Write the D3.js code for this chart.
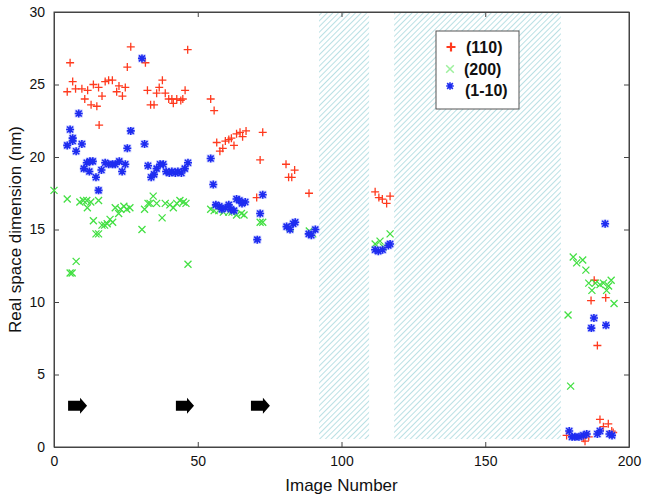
<!DOCTYPE html>
<html><head><meta charset="utf-8">
<script src="https://cdn.jsdelivr.net/npm/d3@7"></script>
<style>body{margin:0;background:#fff}svg{display:block}</style>
</head><body>
<svg id="c" width="649" height="499"></svg>
<script>
// (110) series: [image number, size nm]
const s110 = [[4.6,24.5],[5.6,26.5],[6.5,25.2],[7.5,24.7],[9.7,24.7],[10.7,24.0],[11.7,24.6],[12.9,23.6],[13.7,25.0],[14.9,23.5],[15.5,24.8],[15.7,22.2],[16.7,24.2],[17.8,25.2],[19.0,25.3],[20.3,25.3],[21.8,24.5],[22.6,24.9],[23.8,24.2],[24.8,24.8],[25.5,26.2],[26.7,27.6],[31.8,26.5],[32.5,24.6],[33.6,23.6],[34.8,23.6],[35.7,24.4],[36.6,24.8],[37.7,25.3],[38.7,24.4],[39.9,24.0],[41.0,24.0],[41.5,23.7],[42.7,24.0],[44.1,23.9],[44.8,24.0],[45.6,24.6],[46.5,27.4],
[54.5,24.0],[55.7,23.2],[56.6,21.0],[57.7,20.4],[58.7,20.6],[59.6,21.1],[60.8,21.2],[61.7,21.3],[62.6,20.8],[63.5,21.6],[64.7,21.7],[65.6,21.4],[66.8,21.8],[72.6,21.7],[71.7,19.8],[70.5,17.2],[80.7,19.5],[83.7,19.1],[81.6,18.6],[82.7,18.6],[88.7,17.5],
[111.7,17.6],[113.0,17.2],[114.2,17.1],[115.7,16.8],[116.9,17.3],
[187.9,11.5],[186.8,10.1],[191.9,10.3],[189.0,7.0],[178.3,0.8],[184.1,0.6],[184.7,0.4],[186.0,0.7],[189.9,1.9],[191.1,1.4],[192.8,1.6],[194.0,1.1],[194.5,1.0]];
// (200) series
const s200 = [[0.0,17.7],[4.6,17.1],[5.6,12.0],[6.3,12.0],[7.7,12.8],[9.0,16.9],[10.2,17.0],[11.4,17.0],[11.6,16.5],[12.8,16.9],[15.5,17.0],[13.7,15.6],[14.6,14.7],[15.5,14.7],[16.7,15.3],[17.6,15.3],[18.5,15.4],[19.5,15.7],[20.4,15.5],[21.3,16.5],[22.5,16.1],[23.2,16.4],[24.3,16.6],[25.3,16.4],[26.4,16.5],[30.6,15.0],[31.5,16.4],[32.7,16.8],[33.4,16.8],[34.5,17.3],[35.7,16.8],[37.6,15.8],[38.7,16.8],[40.3,16.7],[41.5,16.5],[42.7,16.8],[43.8,17.0],[45.0,16.9],[45.9,16.8],[46.6,12.6],
[54.5,16.4],[55.7,16.3],[57.3,16.3],[58.9,16.2],[60.8,16.2],[61.9,16.2],[63.5,16.0],[65.2,16.1],[66.1,16.0],[71.7,15.5],[72.6,15.5],[82.1,15.1],[88.8,14.9],[90.0,14.7],
[111.7,14.0],[113.4,14.2],[114.5,13.8],[116.9,14.7],
[180.6,13.1],[181.8,12.7],[183.9,12.9],[185.0,12.2],[186.0,11.3],[187.1,10.8],[188.3,11.3],[189.9,11.2],[191.1,11.3],[192.2,10.8],[192.9,11.1],[193.8,11.5],[194.8,9.9],[178.8,9.1],[179.7,4.2]];
// (1-10) series
const s1m10 = [[30.6,26.8],[8.6,23.0],[5.6,21.9],[26.7,21.8],[6.5,21.3],[4.6,20.8],[6.5,21.1],[7.7,20.4],[9.7,20.9],[25.5,20.6],[31.5,20.9],[10.4,19.2],[11.4,19.6],[12.5,19.7],[13.5,19.7],[12.3,19.0],[14.6,18.6],[16.5,19.1],[17.8,19.6],[19.0,19.5],[20.4,19.5],[21.3,19.5],[22.7,19.7],[23.7,19.0],[24.8,19.5],[15.5,17.7],[32.7,19.4],[33.8,18.6],[34.8,18.8],[35.7,19.2],[36.9,19.5],[38.0,19.5],[39.0,19.0],[40.1,18.9],[41.0,19.0],[42.2,18.9],[43.1,19.0],[44.3,18.9],[45.5,19.2],[46.6,19.6],
[54.5,19.9],[55.4,18.1],[56.3,16.7],[57.5,16.6],[58.4,16.4],[59.6,16.5],[60.8,16.7],[61.5,16.4],[62.6,16.3],[63.5,17.1],[64.5,17.0],[65.4,16.8],[66.5,16.9],[72.6,17.4],[71.7,16.1],[70.7,14.3],[80.9,15.2],[82.1,15.0],[83.2,15.4],[83.9,15.5],[88.6,14.7],[89.5,14.6],[90.9,15.0],
[111.7,13.6],[112.8,13.5],[114.3,13.6],[116.3,13.9],[116.9,14.0],
[187.8,8.9],[186.9,8.2],[192.0,8.4],[191.7,15.4],[179.2,1.1],[180.2,0.7],[181.2,0.7],[182.6,0.7],[184.1,0.8],[185.3,0.9],[189.0,0.9],[189.9,1.1],[193.2,0.9],[194.1,0.8]];
const hatched = [[92.2,109.6],[118.3,176.3]];
const hatchRange = [0.55,30];
const arrowsX = [[4.9,11.5],[42.4,48.7],[68.5,75.1]];
const arrowY = 2.85;
const xTicks = [0,50,100,150,200];
const yTicks = [0,5,10,15,20,25,30];
const legendLabels = ["(110)","(200)","(1-10)"];

const svg = d3.select("#c");
const x = d3.scaleLinear().domain([0,200]).range([54,629]);
const y = d3.scaleLinear().domain([0,30]).range([447,12]);

const defs = svg.append("defs");
const pat = defs.append("pattern").attr("id","hatch").attr("patternUnits","userSpaceOnUse")
  .attr("width",4).attr("height",4).attr("patternTransform","rotate(45)");
pat.append("rect").attr("width",4).attr("height",4).attr("fill","#fff");
pat.append("line").attr("x1",0).attr("y1",0).attr("x2",0).attr("y2",4)
  .attr("stroke","#a9d9dd").attr("stroke-width",1.6);

svg.selectAll("rect.hatch").data(hatched).join("rect").attr("class","hatch")
  .attr("x",d=>x(d[0])).attr("width",d=>x(d[1])-x(d[0]))
  .attr("y",y(hatchRange[1])).attr("height",y(hatchRange[0])-y(hatchRange[1]))
  .attr("fill","url(#hatch)");

// axes box
const axCol = "#444";
svg.append("rect").attr("x",x(0)).attr("y",y(30)).attr("width",x(200)-x(0)).attr("height",y(0)-y(30))
  .attr("fill","none").attr("stroke",axCol).attr("stroke-width",1);

const xa = svg.append("g").attr("transform",`translate(0,${y(0)})`)
  .call(d3.axisBottom(x).tickValues(xTicks).tickSize(-5).tickPadding(9).tickSizeOuter(0));
const ya = svg.append("g").attr("transform",`translate(${x(0)},0)`)
  .call(d3.axisLeft(y).tickValues(yTicks).tickSize(-5).tickPadding(9).tickSizeOuter(0));
const xt = svg.append("g").attr("transform",`translate(0,${y(30)})`)
  .call(d3.axisTop(x).tickValues(xTicks).tickSize(-5).tickFormat("").tickSizeOuter(0));
const yr = svg.append("g").attr("transform",`translate(${x(200)},0)`)
  .call(d3.axisRight(y).tickValues(yTicks).tickSize(-5).tickFormat("").tickSizeOuter(0));
[xa,ya,xt,yr].forEach(g=>{
  g.select(".domain").attr("stroke",axCol);
  g.selectAll(".tick line").attr("stroke",axCol);
  g.selectAll(".tick text").attr("font-family","Liberation Sans, Arial, sans-serif").attr("font-size",14).attr("fill","#111");
});
xa.selectAll(".tick text").attr("dy","0.71em");

svg.append("text").attr("x",(x(0)+x(200))/2).attr("y",491).attr("text-anchor","middle")
  .attr("font-family","Liberation Sans, Arial, sans-serif").attr("font-size",17).attr("fill","#111").text("Image Number");
svg.append("text").attr("transform",`translate(21,${(y(0)+y(30))/2}) rotate(-90)`).attr("text-anchor","middle")
  .attr("font-family","Liberation Sans, Arial, sans-serif").attr("font-size",17).attr("fill","#111").text("Real space dimension (nm)");

// arrows
const ah = 7, bh = 5;
svg.selectAll("path.arrow").data(arrowsX).join("path").attr("class","arrow")
  .attr("d",d=>{
    const x0=x(d[0]), x1=x(d[1]), yc=y(arrowY), xm=x1-7;
    return `M${x0},${yc-bh}L${xm},${yc-bh}L${xm},${yc-ah-1}L${x1},${yc}L${xm},${yc+ah+1}L${xm},${yc+bh}L${x0},${yc+bh}Z`;
  }).attr("fill","#000");

// markers
const red = "#ff3a1e", green = "#44e044", blue = "#1e2cf0";
const plus = (a)=>`M${-a},0L${a},0M0,${-a}L0,${a}`;
const cross = (a)=>`M${-a},${-a}L${a},${a}M${-a},${a}L${a},${-a}`;
const star = (a)=>plus(a)+cross(a*0.75);

svg.append("g").selectAll("path").data(s110).join("path")
  .attr("transform",d=>`translate(${x(d[0])},${y(d[1])})`).attr("d",plus(4))
  .attr("stroke",red).attr("stroke-width",1.3).attr("fill","none");
svg.append("g").selectAll("path").data(s200).join("path")
  .attr("transform",d=>`translate(${x(d[0])},${y(d[1])})`).attr("d",cross(3.5))
  .attr("stroke",green).attr("stroke-width",1.3).attr("fill","none");
const bg = svg.append("g");
bg.selectAll("rect").data(s1m10).join("rect")
  .attr("x",d=>x(d[0])-4).attr("y",d=>y(d[1])-4).attr("width",8).attr("height",8)
  .attr("fill","#8a94ff").attr("opacity",0.45);
bg.selectAll("path").data(s1m10).join("path")
  .attr("transform",d=>`translate(${x(d[0])},${y(d[1])})`).attr("d",star(4))
  .attr("stroke",blue).attr("stroke-width",1.6).attr("fill","none");

// legend
const lg = svg.append("g");
lg.append("rect").attr("x",436).attr("y",31).attr("width",83).attr("height",78)
  .attr("fill","#fff").attr("stroke","#555").attr("stroke-width",1);
const ly = [47,69,90];
lg.append("path").attr("transform",`translate(451,${ly[0]})`).attr("d",plus(4.5)).attr("stroke",red).attr("stroke-width",2.2).attr("fill","none");
lg.append("path").attr("transform",`translate(450,${ly[1]})`).attr("d",cross(3.8)).attr("stroke","#9df09d").attr("stroke-width",1.5).attr("fill","none");
lg.append("path").attr("transform",`translate(450,${ly[2]-4})`).attr("d",star(3.8)).attr("stroke",blue).attr("stroke-width",1.6).attr("fill","none");
lg.selectAll("text").data(legendLabels).join("text")
  .attr("x",(d,i)=>[466,464,465][i]).attr("y",(d,i)=>ly[i]+6)
  .attr("font-family","Liberation Sans, Arial, sans-serif").attr("font-weight","bold").attr("font-size",16).attr("fill","#111")
  .text(d=>d);
</script>
</body></html>
